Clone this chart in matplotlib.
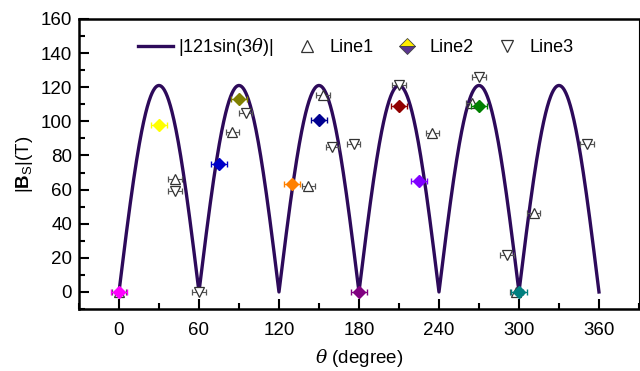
import numpy as np
import matplotlib
matplotlib.use("Agg")
import matplotlib.pyplot as plt
from matplotlib.ticker import MultipleLocator

plt.rcParams['font.family'] = ['Liberation Sans', 'DejaVu Sans']
plt.rcParams['mathtext.fontset'] = 'custom'
plt.rcParams['mathtext.rm'] = 'Liberation Sans'
plt.rcParams['mathtext.bf'] = 'Liberation Sans:bold'
plt.rcParams['mathtext.it'] = 'DejaVu Serif:italic'

# ---- data ----
amp = 121
line1_x = [0, 42, 85, 142, 153, 235, 265, 298, 311]
line1_y = [0, 66, 93.5, 62, 115.5, 93, 110.5, 0, 46]
line1_xerr = [5, 5, 5, 5, 5, 5, 5, 5, 5]

line3_x = [42, 60, 95, 160, 176, 210, 270, 291, 351]
line3_y = [59, 0, 105, 85, 86.5, 121.5, 126, 21.5, 87]
line3_xerr = [5, 5, 5, 5, 5, 5, 5, 5, 5]

line2_x = [0, 30, 75, 90, 130, 150, 180, 210, 225, 270, 300]
line2_y = [0, 98, 75, 113, 63, 101, 0, 109, 65, 109, 0]
line2_xerr = [6, 6, 6, 6, 6, 6, 6, 6, 6, 6, 6]
line2_colors = ["#ff00ff", "#ffff00", "#0000c8", "#808000", "#ff8000", "#000090",
                "#800080", "#900000", "#8000ff", "#008000", "#008080"]

theta = np.linspace(0, 360, 1441)
curve = np.abs(amp * np.sin(np.deg2rad(3 * theta)))

fig = plt.figure(figsize=(6.4, 3.71), dpi=100)
ax = fig.add_axes([0.1234, 0.167, 0.875, 0.782])

ax.plot(theta, curve, color="#2d0a5a", lw=2.4, zorder=2)

ax.errorbar(line1_x, line1_y, xerr=line1_xerr, fmt="^", ms=7, mfc="white", mec="#333333",
            mew=0.9, ecolor="#555555", elinewidth=0.8, capsize=2.5, zorder=3)
ax.errorbar(line3_x, line3_y, xerr=line3_xerr, fmt="v", ms=7, mfc="white", mec="#333333",
            mew=0.9, ecolor="#555555", elinewidth=0.8, capsize=2.5, zorder=3)
for x, y, e, c in zip(line2_x, line2_y, line2_xerr, line2_colors):
    ax.errorbar(x, y, xerr=e, fmt="D", ms=6, mfc=c, mec=c, ecolor=c,
                elinewidth=0.9, capsize=2.5, zorder=4)

# legend handles
h_curve = ax.lines[0]
h1, = ax.plot([], [], "^", ms=8, mfc="white", mec="#333333", mew=0.9, ls="none")
h2, = ax.plot([], [], "D", ms=8, mfc="#ffee00", mfcalt="#5a3590", fillstyle="top",
              mec="#444444", mew=0.6, ls="none")
h3, = ax.plot([], [], "v", ms=8, mfc="white", mec="#333333", mew=0.9, ls="none")
ax.legend([h_curve, h1, h2, h3], [r"|121sin(3$\theta$)|", "Line1", "Line2", "Line3"],
          loc="center", bbox_to_anchor=(0.495, 0.903), ncol=4, frameon=False,
          fontsize=13, handlelength=1.9, handletextpad=0.3, columnspacing=0.9)

ax.set_xlim(-30, 390)
ax.set_ylim(-10, 160)
ax.xaxis.set_major_locator(MultipleLocator(60))
ax.xaxis.set_minor_locator(MultipleLocator(30))
ax.yaxis.set_major_locator(MultipleLocator(20))
ax.yaxis.set_minor_locator(MultipleLocator(10))
ax.tick_params(which="both", direction="in", top=False, right=False, labelsize=13.5, width=1.5)
ax.tick_params(which="major", length=7)
ax.tick_params(which="minor", length=4)
ax.tick_params(axis="x", which="major", pad=9)
ax.tick_params(axis="y", which="major", pad=5)
for s in ["left", "bottom", "top"]:
    ax.spines[s].set_linewidth(1.8)
ax.spines["right"].set_linewidth(0.8)

ax.set_xlabel(r"$\theta$ (degree)", fontsize=13.5, labelpad=6)
ax.set_ylabel(r"$|\mathbf{B}_{\mathrm{S}}|$(T)", fontsize=13.5)

fig.savefig("out.png", dpi=100)
